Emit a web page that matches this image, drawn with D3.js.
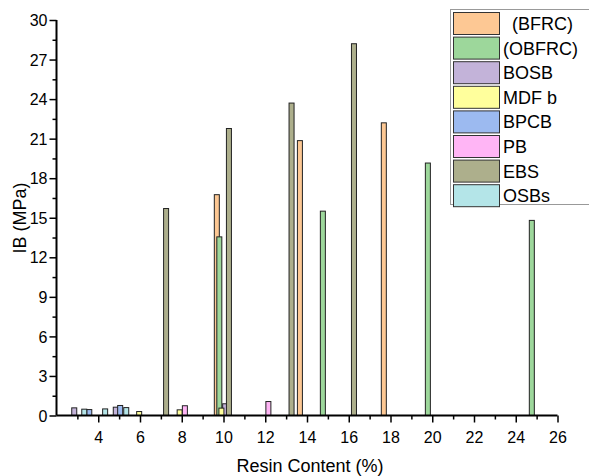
<!DOCTYPE html>
<html>
<head>
<meta charset="utf-8">
<script src="https://cdn.jsdelivr.net/npm/d3@7"></script>
<style>
  body { margin: 0; background: #fff; }
  text { font-family: "Liberation Sans", Arial, sans-serif; }
</style>
</head>
<body>
<div id="chart"></div>
<script>
// series names and colours
var seriesNames = [" (BFRC)", "(OBFRC)", "BOSB", "MDF b", "BPCB", "PB", "EBS", "OSBs"];
var seriesColors = ["#fdc894", "#9dd79b", "#c3b3d9", "#ffff9c", "#9cbaf0", "#ffb5f5", "#adaf8c", "#b4e5e8"];

// [resin content %, IB MPa]
var bfrc  = [[9.68, 16.75], [13.66, 20.85], [17.68, 22.2]];
var obfrc = [[9.8, 13.55], [14.76, 15.5], [19.79, 19.15], [24.77, 14.8]];
var bosb  = [[2.85, 0.58], [4.84, 0.63], [10.08, 0.89]];
var mdfb  = [[5.96, 0.3], [7.9, 0.43], [9.9, 0.56]];
var bpcb  = [[3.57, 0.45], [5.05, 0.76]];
var pb    = [[8.15, 0.74], [12.15, 1.06]];
var ebs   = [[7.25, 15.7], [10.26, 21.77], [13.26, 23.7], [16.25, 28.2]];
var osbs  = [[3.33, 0.48], [4.33, 0.5], [5.34, 0.6]];

var xTicks = [4, 6, 8, 10, 12, 14, 16, 18, 20, 22, 24, 26];
var yTicks = [0, 3, 6, 9, 12, 15, 18, 21, 24, 27, 30];

var allSeries = [bfrc, obfrc, bosb, mdfb, bpcb, pb, ebs, osbs];

var width = 589, height = 476;

var svg = d3.select("#chart")
  .append("svg")
    .attr("width", width)
    .attr("height", height);

var x = d3.scaleLinear()
  .domain([2, 26])
  .range([56.5, 557.5]);

var y = d3.scaleLinear()
  .domain([0, 30])
  .range([415.5, 20]);

var barW = 0.24; // in x units

// bars
allSeries.forEach(function(s, i) {
  svg.append("g")
    .selectAll("rect")
    .data(s)
    .enter()
    .append("rect")
      .attr("x", function(d) { return x(d[0] - barW / 2); })
      .attr("y", function(d) { return y(d[1]); })
      .attr("width", function(d) { return x(d[0] + barW / 2) - x(d[0] - barW / 2); })
      .attr("height", function(d) { return y(0) - y(d[1]); })
      .attr("fill", seriesColors[i])
      .attr("stroke", "#222")
      .attr("stroke-width", 1);
});

// X axis
var xAxis = svg.append("g")
  .attr("transform", "translate(0," + y(0) + ")");
xAxis.call(d3.axisBottom(x)
  .tickValues(d3.range(3, 27, 1))
  .tickSize(4)
  .tickFormat(""));
xAxis.call(function(g) {
  g.selectAll(".tick").filter(function(d) { return xTicks.indexOf(d) >= 0; })
    .select("line").attr("y2", 7);
  g.selectAll(".tick").filter(function(d) { return xTicks.indexOf(d) >= 0; })
    .append("text")
      .attr("y", 27)
      .attr("fill", "#000")
      .style("font-size", "16px")
      .attr("text-anchor", "middle")
      .text(function(d) { return d; });
});
xAxis.select(".domain").attr("stroke-width", 2).attr("d", "M" + x(2) + ",0H" + x(26));
xAxis.selectAll(".tick line").attr("stroke-width", 1.5);

// Y axis
var yAxis = svg.append("g")
  .attr("transform", "translate(" + x(2) + ",0)");
yAxis.call(d3.axisLeft(y)
  .tickValues(d3.range(0, 31, 1.5))
  .tickSize(4)
  .tickFormat(""));
yAxis.call(function(g) {
  g.selectAll(".tick").filter(function(d) { return yTicks.indexOf(d) >= 0; })
    .select("line").attr("x2", -7);
  g.selectAll(".tick").filter(function(d) { return yTicks.indexOf(d) >= 0; })
    .append("text")
      .attr("x", -9)
      .attr("dy", "0.35em")
      .attr("fill", "#000")
      .style("font-size", "16px")
      .attr("text-anchor", "end")
      .text(function(d) { return d; });
});
yAxis.select(".domain").attr("stroke-width", 2).attr("d", "M0," + y(0) + "V" + y(30));
yAxis.selectAll(".tick line").attr("stroke-width", 1.5);

// axis titles
svg.append("text")
  .attr("x", 310)
  .attr("y", 472)
  .attr("text-anchor", "middle")
  .style("font-size", "18px")
  .text("Resin Content (%)");

svg.append("text")
  .attr("transform", "translate(26,218) rotate(-90)")
  .attr("text-anchor", "middle")
  .style("font-size", "18px")
  .text("IB (MPa)");

// legend
var legend = svg.append("g");
legend.append("rect")
  .attr("x", 450.5)
  .attr("y", 9.5)
  .attr("width", 160)
  .attr("height", 195)
  .attr("fill", "#fff")
  .attr("stroke", "#999");

seriesNames.forEach(function(name, i) {
  var ly = 12.5 + i * 24.6;
  legend.append("rect")
    .attr("x", 453.5)
    .attr("y", ly)
    .attr("width", 46)
    .attr("height", 22)
    .attr("fill", seriesColors[i])
    .attr("stroke", "#333");
  legend.append("text")
    .attr("x", name.charAt(0) == " " ? 512 : 503)
    .attr("y", ly + 17.5)
    .style("font-size", "18px")
    .text(name.trim());
});
</script>
</body>
</html>
